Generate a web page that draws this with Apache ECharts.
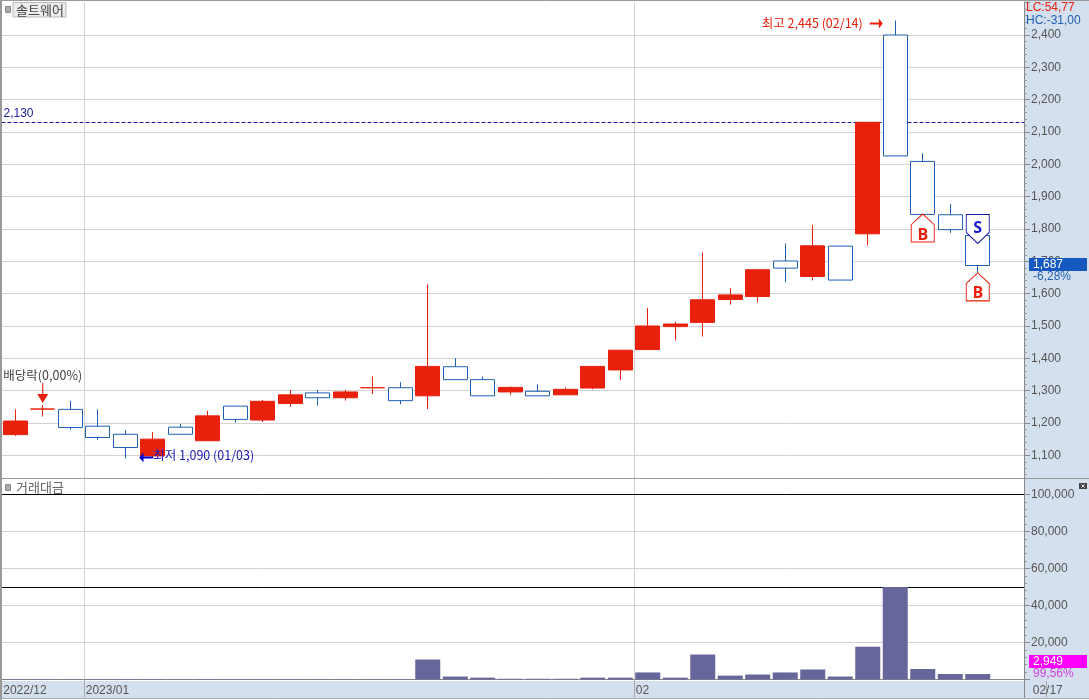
<!DOCTYPE html>
<html><head><meta charset="utf-8">
<style>html,body{margin:0;padding:0;background:#fff}#c{width:1089px;height:700px}</style>
<script src="https://cdn.jsdelivr.net/npm/echarts@6/dist/echarts.min.js"></script>
</head><body><div id="c"></div>
<script>
const dates = ['12/27','12/28','12/29','01/02','01/03','01/04','01/05','01/06','01/09','01/10','01/11','01/12','01/13','01/16','01/17','01/18','01/19','01/20','01/25','01/26','01/27','01/30','01/31','02/01','02/02','02/03','02/06','02/07','02/08','02/09','02/10','02/13','02/14','02/15','02/16','02/17','',' '];
const opens  = [1164,1243,1242,1190,1165,1098,1187,1145,1252,1209,1260,1293,1278,1309,1309,1284,1374,1334,1296,1298,1287,1308,1364,1427,1498,1511,1582,1591,1701,1653,1747,1785,2400,2009,1844,1780];
const closes = [1206,1243,1186,1155,1124,1150,1165,1222,1211,1267,1287,1278,1296,1309,1269,1375,1334,1284,1310,1284,1304,1375,1425,1500,1506,1581,1596,1674,1679,1748,1642,2130,2026,1845,1798,1687];
const lows   = [1160,1220,1179,1148,1090,1095,1165,1145,1201,1203,1250,1254,1269,1289,1258,1243,1334,1284,1287,1284,1287,1304,1333,1427,1455,1467,1566,1573,1635,1641,1642,1749,2026,1845,1788,1664];
const highs  = [1242,1255,1268,1242,1178,1172,1197,1238,1252,1271,1302,1302,1302,1344,1326,1629,1400,1344,1313,1320,1310,1375,1425,1556,1513,1727,1618,1674,1755,1813,1747,2130,2445,2034,1877,1780];
const volumes= [200,200,150,200,250,250,150,250,200,200,200,150,150,150,200,10800,1600,1000,400,400,400,1000,1000,3800,1000,13500,2100,2700,3800,5400,1600,17730,50000,5676,2970,2949];
const buySignals = [[33,1803],[35,1621]];
const sellSignals = [[35,1800]];
const axisLabels = {'12/27':'2022/12','01/02':'2023/01','02/01':'02',' ':'02/17'};
const priceLevel = 2130;
const volumeLevels = [100000,50000];

const RED='#e8200c',BLUE='#1f5fb4',NAVY='#1a1a9c',GRID='#d2d2d2',PANEL='#d5e0ee',TXT='#555';
const FONT='"Liberation Sans","Noto Sans CJK KR",sans-serif';
const KFONT='"Noto Sans CJK KR","Liberation Sans",sans-serif';
const pick=(i,v)=>i===3||i===23;
const candle=opens.map((o,i)=>[o,closes[i],lows[i],highs[i]]);
const rect=(x,y,w,h,fill,z,stroke)=>({type:'rect',z,silent:true,shape:{x,y,width:w,height:h},style:{fill,stroke:stroke||null}});
const text=(x,y,t,fill,z,extra)=>({type:'text',z:z||20,silent:true,x,y,style:Object.assign({text:t,fill,font:'12px '+FONT,verticalAlign:'middle'},extra||{})});
const line=(x1,y1,x2,y2,c,w,z)=>({type:'line',z:z||20,silent:true,shape:{x1,y1,x2,y2},style:{stroke:c,lineWidth:w||1}});
const chart=echarts.init(document.getElementById('c'),null,{renderer:'canvas'});
const yTickStyle={show:true,length:6,lineStyle:{color:'#888'}};
const yMinor={show:true,length:3,splitNumber:5,lineStyle:{color:'#999'}};
chart.setOption({
  animation:false,backgroundColor:'#fff',
  grid:[
    {left:1.5,top:2.67,width:1045,height:484.95,containLabel:false},
    {left:1.5,top:479,width:1045,height:200.5,containLabel:false}
  ],
  xAxis:[
    {type:'category',gridIndex:0,data:dates,boundaryGap:true,z:0,axisLine:{show:false},axisTick:{show:false},axisLabel:{show:false},
     splitLine:{show:true,interval:pick,lineStyle:{color:GRID}}},
    {type:'category',gridIndex:1,data:dates,boundaryGap:true,z:1,
     axisLine:{show:true,onZero:false,lineStyle:{color:'#888',width:1}},
     axisTick:{show:true,interval:pick,length:18,lineStyle:{color:'#aaa'}},
     splitLine:{show:true,interval:pick,lineStyle:{color:GRID}},
     axisLabel:{show:true,interval:0,margin:5,align:'left',hideOverlap:false,color:TXT,fontFamily:FONT,fontSize:12,padding:[0,0,0,-12],
       formatter:v=>{const t=axisLabels[v];if(!t)return '';return v===' '?'{e|'+t+'}':t;},
       rich:{e:{color:TXT,fontFamily:FONT,fontSize:12,padding:[0,0,0,12]}}}}
  ],
  yAxis:[
    {type:'value',gridIndex:0,position:'right',min:1000,max:2500,interval:100,z:0,axisLine:{show:false},axisTick:{show:false},axisLabel:{show:false},
     splitLine:{show:true,showMinLine:false,showMaxLine:false,lineStyle:{color:GRID}}},
    {type:'value',gridIndex:0,position:'right',offset:-22.5,min:1000,max:2500,interval:100,z:10,
     axisLine:{show:true,lineStyle:{color:'#888'}},axisTick:yTickStyle,minorTick:yMinor,splitLine:{show:false},
     axisLabel:{show:true,margin:7,color:TXT,fontFamily:FONT,fontSize:12,showMinLabel:false,showMaxLabel:false,formatter:v=>v.toLocaleString('en-US')}},
    {type:'value',gridIndex:1,position:'right',min:0,max:108378,interval:20000,z:0,axisLine:{show:false},axisTick:{show:false},axisLabel:{show:false},
     splitLine:{show:true,showMinLine:false,showMaxLine:false,lineStyle:{color:GRID}}},
    {type:'value',gridIndex:1,position:'right',offset:-22.5,min:0,max:108378,interval:20000,z:10,
     axisLine:{show:true,lineStyle:{color:'#888'}},axisTick:yTickStyle,minorTick:yMinor,splitLine:{show:false},
     axisLabel:{show:true,margin:7,color:TXT,fontFamily:FONT,fontSize:12,showMinLabel:false,showMaxLabel:false,formatter:v=>v.toLocaleString('en-US')}}
  ],
  series:[
    {type:'candlestick',name:'솔트웨어',xAxisIndex:0,yAxisIndex:0,z:2,data:candle,barWidth:24.5,clip:false,
     itemStyle:{color:RED,color0:'#fff',borderColor:RED,borderColor0:BLUE,borderWidth:1},
     markLine:{z:1,silent:true,symbol:'none',animation:false,lineStyle:{type:'dashed',color:NAVY,width:1},
       label:{show:true,position:'insideStartTop',distance:[2,3],color:NAVY,fontFamily:FONT,fontSize:12,formatter:'2,130'},
       data:[{yAxis:priceLevel}]},
     markPoint:{silent:true,animation:false,data:[
       {coord:[32,2445],symbol:'path://M0 40 L70 40 L70 0 L100 50 L70 100 L70 60 L0 60 Z',symbolSize:[13,10],symbolOffset:[-19,3],
        itemStyle:{color:RED},label:{show:true,position:'left',distance:7,offset:[0,0],color:RED,fontFamily:KFONT,fontSize:12.5,formatter:'최고 2,445 (02/14)'}},
       {coord:[4,1090],symbol:'path://M100 40 L30 40 L30 0 L0 50 L30 100 L30 60 L100 60 Z',symbolSize:[14,10],symbolOffset:[21,-1],
        itemStyle:{color:'#0000d0'},label:{show:true,position:'right',distance:0,offset:[0,-2],color:'#1a1ab4',fontFamily:KFONT,fontSize:12.5,formatter:'최저 1,090 (01/03)'}},
       {coord:[1,1243],symbol:'path://M45 0 L55 0 L55 55 L100 55 L50 100 L0 55 L45 55 Z',symbolSize:[11,20],symbolOffset:[0,-16],
        itemStyle:{color:RED},label:{show:true,position:'top',distance:0,offset:[0,-2],color:'#444',fontFamily:KFONT,fontSize:12.5,formatter:'배당락(0,00%)'}}
     ]}},
    {type:'bar',name:'거래대금',xAxisIndex:1,yAxisIndex:2,z:2,data:volumes,barWidth:25,itemStyle:{color:'#66669a'},
     markLine:{z:1,silent:true,symbol:'none',animation:false,label:{show:false},lineStyle:{type:'solid',color:'#000',width:1},
       data:volumeLevels.map(v=>({yAxis:v}))}},
    {type:'scatter',name:'B',xAxisIndex:0,yAxisIndex:0,z:4,data:buySignals,symbol:'path://M50 0 L100 38 L100 100 L0 100 L0 38 Z',symbolSize:[23,28],
     itemStyle:{color:'#fff',borderColor:RED,borderWidth:1,opacity:1},
     label:{show:true,position:'inside',offset:[0,7],formatter:'B',color:RED,fontFamily:'"Open Sans",sans-serif',fontWeight:'bold',fontSize:16}},
    {type:'scatter',name:'S',xAxisIndex:0,yAxisIndex:0,z:4,data:sellSignals,symbol:'path://M0 0 L100 0 L100 62 L50 100 L0 62 Z',symbolSize:[23,29],
     itemStyle:{color:'#fff',borderColor:NAVY,borderWidth:1,opacity:1},
     label:{show:true,position:'inside',offset:[0,-1],formatter:'S',color:'#1a1ad0',fontFamily:'"Open Sans",sans-serif',fontWeight:'bold',fontSize:16}}
  ],
  graphic:[
    rect(1024,0,65,681,PANEL,6),
    rect(0,681,1089,17,PANEL,0),
    rect(1024.5,479,64.5,9,PANEL,11),
    line(0,0.5,1089,0.5,'#999',1),
    line(1,0,1,700,'#999',2),
    line(0,698.5,1089,698.5,'#aaa',1),
    line(0,478.5,1089,478.5,'#999',1),
    line(1024.5,478,1024.5,698,'#888',1),
    rect(5.5,6.5,5,6,'#aaa',20,'#888'),
    rect(13,2.5,53,14.5,'#ececec',20,'#bbb'),
    text(16,10,'솔트웨어','#444',21,{font:'13px '+KFONT}),
    rect(5.5,484.5,5,6,'#aaa',20,'#888'),
    text(16,487,'거래대금','#666',21,{font:'13px '+KFONT}),
    rect(1079,483,8,6,'#444',21),
    line(1081.5,484.5,1084.5,487.5,'#fff',1,22),
    line(1084.5,484.5,1081.5,487.5,'#fff',1,22),
    text(1026,8,'LC:54,77',RED),
    text(1026,21,'HC:-31,00',BLUE),
    rect(1029,258,58,13,'#1558c0',12),
    text(1033,264.5,'1,687','#fff',21),
    text(1033,276.5,'-6,28%',BLUE,21),
    rect(1029,655,58,13,'#ff00ff',12),
    text(1033,661.5,'2,949','#fff',21),
    text(1033,674,'99,56%','#d040e0',21)
  ]
});
</script></body></html>
